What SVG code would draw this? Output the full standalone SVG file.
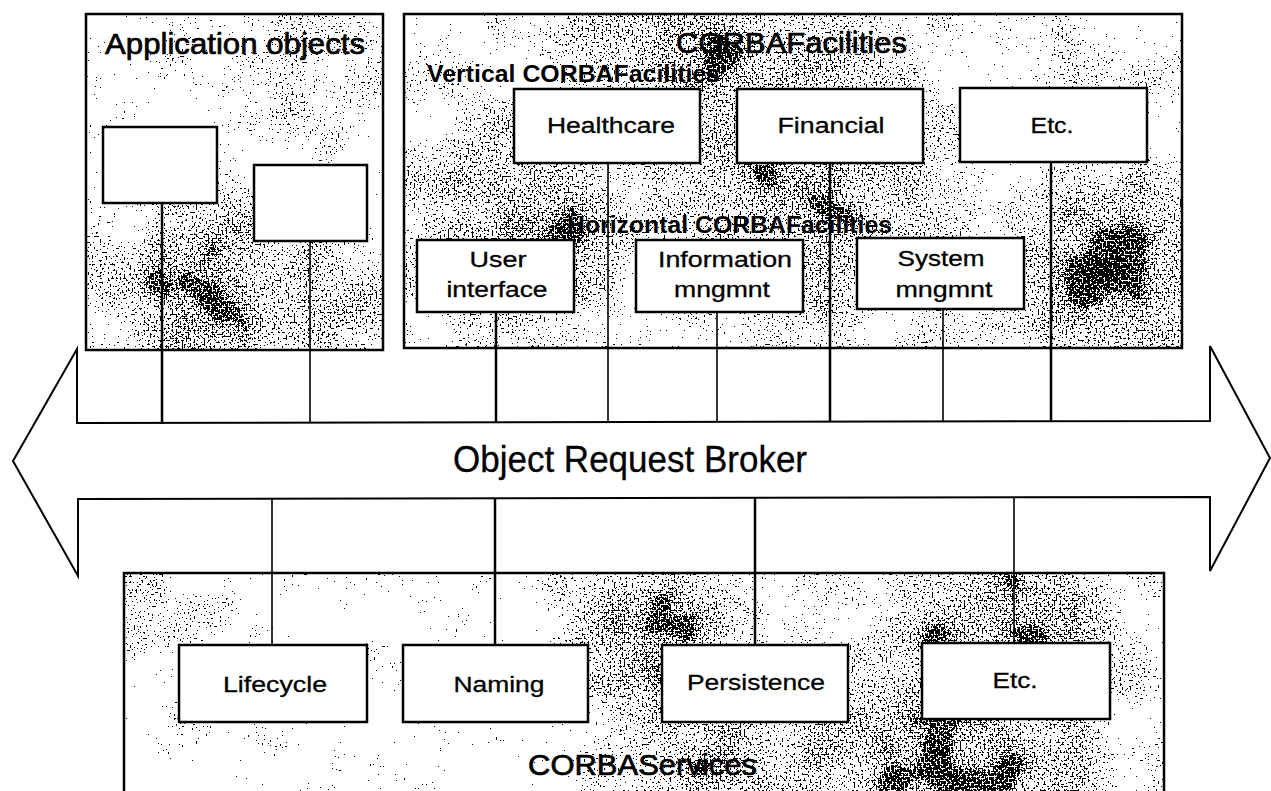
<svg xmlns="http://www.w3.org/2000/svg" width="1271" height="791" viewBox="0 0 1271 791">
  <defs>
    <filter id="speckle" x="0" y="0" width="1" height="1" filterUnits="objectBoundingBox" color-interpolation-filters="sRGB">
      <feTurbulence type="fractalNoise" baseFrequency="0.5" numOctaves="1" seed="4" result="fine"/>
      <feTurbulence type="fractalNoise" baseFrequency="0.02" numOctaves="2" seed="11" result="coarse"/>
      <feColorMatrix in="fine" type="matrix" values="0 0 0 0 0 0 0 0 0 0 0 0 0 0 0 1 0 0 0 0" result="fa"/>
      <feColorMatrix in="coarse" type="matrix" values="0 0 0 0 0 0 0 0 0 0 0 0 0 0 0 0.3 0 0 0 0" result="ca"/>
      <feColorMatrix in="SourceGraphic" type="matrix" values="0 0 0 0 0 0 0 0 0 0 0 0 0 0 0 -0.45 0 0 0 0.45" result="da"/>
      <feComposite in="fa" in2="da" operator="arithmetic" k1="0" k2="1" k3="1" k4="0" result="s1"/>
      <feComposite in="s1" in2="ca" operator="arithmetic" k1="0" k2="1" k3="1" k4="-0.26" result="sum"/>
      <feComponentTransfer in="sum" result="dots">
        <feFuncA type="discrete" tableValues="0 0 0 0 0 0 0 1 1 1"/>
      </feComponentTransfer>
      <feFlood flood-color="#ffffff" result="white"/>
      <feMerge><feMergeNode in="white"/><feMergeNode in="dots"/></feMerge>
    </filter>
    <radialGradient id="a1" gradientUnits="userSpaceOnUse" cx="200" cy="290" r="150"><stop offset="0" stop-color="#000" stop-opacity="0.75"/><stop offset="1" stop-color="#000" stop-opacity="0"/></radialGradient>
    <radialGradient id="a2" gradientUnits="userSpaceOnUse" cx="310" cy="75" r="90"><stop offset="0" stop-color="#000" stop-opacity="0.35"/><stop offset="1" stop-color="#000" stop-opacity="0"/></radialGradient>
    <radialGradient id="a3" gradientUnits="userSpaceOnUse" cx="350" cy="300" r="80"><stop offset="0" stop-color="#000" stop-opacity="0.5"/><stop offset="1" stop-color="#000" stop-opacity="0"/></radialGradient>
    <radialGradient id="f1" gradientUnits="userSpaceOnUse" cx="720" cy="40" r="200"><stop offset="0" stop-color="#000" stop-opacity="0.6"/><stop offset="1" stop-color="#000" stop-opacity="0"/></radialGradient>
    <radialGradient id="f2" gradientUnits="userSpaceOnUse" cx="520" cy="230" r="160"><stop offset="0" stop-color="#000" stop-opacity="0.6"/><stop offset="1" stop-color="#000" stop-opacity="0"/></radialGradient>
    <radialGradient id="f3" gradientUnits="userSpaceOnUse" cx="1110" cy="270" r="130"><stop offset="0" stop-color="#000" stop-opacity="0.85"/><stop offset="1" stop-color="#000" stop-opacity="0"/></radialGradient>
    <radialGradient id="f4" gradientUnits="userSpaceOnUse" cx="820" cy="210" r="180"><stop offset="0" stop-color="#000" stop-opacity="0.55"/><stop offset="1" stop-color="#000" stop-opacity="0"/></radialGradient>
    <radialGradient id="s1" gradientUnits="userSpaceOnUse" cx="650" cy="620" r="140"><stop offset="0" stop-color="#000" stop-opacity="0.7"/><stop offset="1" stop-color="#000" stop-opacity="0"/></radialGradient>
    <radialGradient id="s2" gradientUnits="userSpaceOnUse" cx="950" cy="770" r="260"><stop offset="0" stop-color="#000" stop-opacity="0.75"/><stop offset="1" stop-color="#000" stop-opacity="0"/></radialGradient>
    <radialGradient id="s3" gradientUnits="userSpaceOnUse" cx="1030" cy="600" r="150"><stop offset="0" stop-color="#000" stop-opacity="0.5"/><stop offset="1" stop-color="#000" stop-opacity="0"/></radialGradient>
    <radialGradient id="s4" gradientUnits="userSpaceOnUse" cx="700" cy="770" r="160"><stop offset="0" stop-color="#000" stop-opacity="0.5"/><stop offset="1" stop-color="#000" stop-opacity="0"/></radialGradient>
    <radialGradient id="s5" gradientUnits="userSpaceOnUse" cx="170" cy="610" r="70"><stop offset="0" stop-color="#000" stop-opacity="0.35"/><stop offset="1" stop-color="#000" stop-opacity="0"/></radialGradient>
    <style>
      .tex { filter: url(#speckle); }
      .frame { fill: none; stroke: #000; stroke-width: 2.5; }
      .box { fill: #fff; stroke: #000; stroke-width: 2.5; }
      .arrow { fill: #fff; stroke: #000; stroke-width: 2; stroke-linejoin: miter; }
      .thick { stroke: #000; stroke-width: 2.5; fill: none; }
      .thin { stroke: #000; stroke-width: 1.6; fill: none; }
      text { font-family: "Liberation Sans", Arial, sans-serif; fill: #000; }
      .title { font-size: 30px; stroke: #000; stroke-width: 0.7; }
      .sub { font-size: 23px; font-weight: bold; }
      .lbl { font-size: 22px; text-anchor: middle; stroke: #000; stroke-width: 0.3; }
      .orb { font-size: 36px; stroke: #000; stroke-width: 0.3; }
    </style>
  </defs>

  <rect x="0" y="0" width="1271" height="791" fill="#fff"/>

  <!-- Containers -->
  <g id="app-objects">
    <g class="tex">
      <rect x="86" y="14" width="297" height="336" fill="#e2e2e2"/>
      <rect x="86" y="14" width="297" height="336" fill="url(#a1)"/>
      <rect x="86" y="14" width="297" height="336" fill="url(#a2)"/>
      <rect x="86" y="14" width="297" height="336" fill="url(#a3)"/>
    </g>
    <rect class="frame" x="86" y="14" width="297" height="336"/>
    <text class="title" x="105" y="54" textLength="260" lengthAdjust="spacingAndGlyphs">Application objects</text>
  </g>
  <g id="corba-facilities">
    <g class="tex">
      <rect x="404" y="14" width="778" height="334" fill="#cfcfcf"/>
      <rect x="404" y="14" width="778" height="334" fill="url(#f1)"/>
      <rect x="404" y="14" width="778" height="334" fill="url(#f2)"/>
      <rect x="404" y="14" width="778" height="334" fill="url(#f3)"/>
      <rect x="404" y="14" width="778" height="334" fill="url(#f4)"/>
    </g>
    <rect class="frame" x="404" y="14" width="778" height="334"/>
    <text class="title" x="676" y="53" textLength="231" lengthAdjust="spacingAndGlyphs">CORBAFacilities</text>
    <text class="sub" x="427" y="82" textLength="293" lengthAdjust="spacingAndGlyphs">Vertical CORBAFacilities</text>
    <text class="sub" x="567" y="233" textLength="325" lengthAdjust="spacingAndGlyphs">Horizontal CORBAFacilities</text>
  </g>
  <g id="corba-services">
    <g class="tex">
      <rect x="124" y="573" width="1040" height="230" fill="#ebebeb"/>
      <rect x="124" y="573" width="1040" height="230" fill="url(#s1)"/>
      <rect x="124" y="573" width="1040" height="230" fill="url(#s2)"/>
      <rect x="124" y="573" width="1040" height="230" fill="url(#s3)"/>
      <rect x="124" y="573" width="1040" height="230" fill="url(#s4)"/>
      <rect x="124" y="573" width="1040" height="230" fill="url(#s5)"/>
    </g>
    <rect class="frame" x="124" y="573" width="1040" height="230"/>
    <text class="title" x="528" y="775" textLength="229" lengthAdjust="spacingAndGlyphs">CORBAServices</text>
  </g>

  <!-- Object Request Broker arrow -->
  <g id="orb">
    <polygon class="arrow" points="13,461 77,349 77,423 1210,421 1210,346 1270,458 1210,571 1210,497 78,499 78,576"/>
    <text class="orb" x="453" y="472" textLength="354" lengthAdjust="spacingAndGlyphs">Object Request Broker</text>
  </g>

  <!-- Connectors -->
  <g id="connectors">
    <line class="thick" x1="162" y1="203" x2="162" y2="424"/>
    <line class="thin" x1="310" y1="241" x2="310" y2="423"/>
    <line class="thick" x1="496" y1="312" x2="496" y2="423"/>
    <line class="thin" x1="608" y1="163" x2="608" y2="423"/>
    <line class="thin" x1="717" y1="312" x2="717" y2="422"/>
    <line class="thick" x1="830" y1="163" x2="830" y2="422"/>
    <line class="thin" x1="943" y1="309" x2="943" y2="422"/>
    <line class="thick" x1="1051" y1="162" x2="1051" y2="421"/>
    <line class="thin" x1="272" y1="499" x2="272" y2="645"/>
    <line class="thick" x1="495" y1="499" x2="495" y2="645"/>
    <line class="thick" x1="755" y1="498" x2="755" y2="645"/>
    <line class="thin" x1="1014" y1="497" x2="1014" y2="643"/>
  </g>

  <!-- Application object boxes -->
  <g id="app-box-1"><rect class="box" x="103" y="127" width="114" height="76"/></g>
  <g id="app-box-2"><rect class="box" x="254" y="165" width="113" height="76"/></g>

  <!-- Vertical facilities -->
  <g id="healthcare">
    <rect class="box" x="514" y="89" width="186" height="74"/>
    <text class="lbl" x="611" y="133" textLength="128" lengthAdjust="spacingAndGlyphs">Healthcare</text>
  </g>
  <g id="financial">
    <rect class="box" x="737" y="89" width="186" height="74"/>
    <text class="lbl" x="831" y="133" textLength="107" lengthAdjust="spacingAndGlyphs">Financial</text>
  </g>
  <g id="etc-vertical">
    <rect class="box" x="960" y="88" width="187" height="74"/>
    <text class="lbl" x="1052" y="133" textLength="43" lengthAdjust="spacingAndGlyphs">Etc.</text>
  </g>

  <!-- Horizontal facilities -->
  <g id="user-interface">
    <rect class="box" x="417" y="240" width="157" height="72"/>
    <text class="lbl" x="498" y="267" textLength="57" lengthAdjust="spacingAndGlyphs">User</text>
    <text class="lbl" x="497" y="297" textLength="101" lengthAdjust="spacingAndGlyphs">interface</text>
  </g>
  <g id="information-mngmnt">
    <rect class="box" x="636" y="240" width="167" height="72"/>
    <text class="lbl" x="725" y="267" textLength="134" lengthAdjust="spacingAndGlyphs">Information</text>
    <text class="lbl" x="722" y="297" textLength="96" lengthAdjust="spacingAndGlyphs">mngmnt</text>
  </g>
  <g id="system-mngmnt">
    <rect class="box" x="857" y="238" width="167" height="71"/>
    <text class="lbl" x="941" y="266" textLength="87" lengthAdjust="spacingAndGlyphs">System</text>
    <text class="lbl" x="944" y="297" textLength="97" lengthAdjust="spacingAndGlyphs">mngmnt</text>
  </g>

  <!-- CORBAServices -->
  <g id="lifecycle">
    <rect class="box" x="179" y="645" width="188" height="77"/>
    <text class="lbl" x="275" y="692" textLength="104" lengthAdjust="spacingAndGlyphs">Lifecycle</text>
  </g>
  <g id="naming">
    <rect class="box" x="403" y="645" width="185" height="77"/>
    <text class="lbl" x="499" y="692" textLength="91" lengthAdjust="spacingAndGlyphs">Naming</text>
  </g>
  <g id="persistence">
    <rect class="box" x="662" y="645" width="186" height="77"/>
    <text class="lbl" x="756" y="690" textLength="138" lengthAdjust="spacingAndGlyphs">Persistence</text>
  </g>
  <g id="etc-services">
    <rect class="box" x="922" y="643" width="188" height="76"/>
    <text class="lbl" x="1015" y="688" textLength="45" lengthAdjust="spacingAndGlyphs">Etc.</text>
  </g>
</svg>
